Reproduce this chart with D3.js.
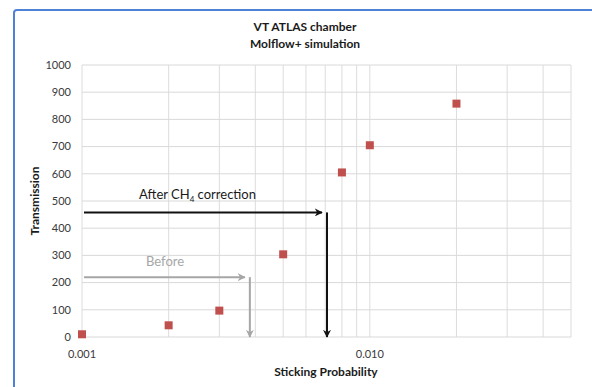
<!DOCTYPE html>
<html>
<head>
<meta charset="utf-8">
<script src="https://cdn.jsdelivr.net/npm/d3@7"></script>
<style>
  body { margin: 0; background: #fff; }
  text { font-family: Lato, "Open Sans", sans-serif; }
</style>
</head>
<body>
<div id="chart"></div>
<script>
// data
let sticking = [0.001, 0.002, 0.003, 0.005, 0.008, 0.01, 0.02];
let transmission = [10, 43, 97, 304, 605, 705, 858];
let yTicks = [0, 100, 200, 300, 400, 500, 600, 700, 800, 900, 1000];
let xLabels = [0.001, 0.010];
// annotation arrows: [transmission level, sticking probability]
let beforeArrow = [220, 0.00383];
let afterArrow = [458, 0.0071];

let width = 592, height = 387;
let margin = {left: 82, right: 21, top: 65, bottom: 50};

let svg = d3.select("#chart").append("svg")
    .attr("width", width)
    .attr("height", height);

// blue frame
svg.append("rect")
    .attr("x", 14).attr("y", 10)
    .attr("width", 620).attr("height", 420)
    .attr("rx", 3)
    .style("fill", "none")
    .style("stroke", "#4f81d6")
    .style("stroke-width", 2);

let x = d3.scaleLog()
    .domain([0.001, 0.05])
    .range([margin.left, width - margin.right]);

let y = d3.scaleLinear()
    .domain([0, 1000])
    .range([height - margin.bottom, margin.top]);

// grid
let xGrid = x.ticks().filter(function(d) { return d <= 0.05; });
svg.append("g").selectAll("line")
    .data(xGrid)
    .enter().append("line")
    .attr("x1", function(d) { return x(d); })
    .attr("x2", function(d) { return x(d); })
    .attr("y1", y(0)).attr("y2", y(1000))
    .style("stroke", "#dcdcdc")
    .style("stroke-width", 1);

svg.append("g").selectAll("line")
    .data(yTicks)
    .enter().append("line")
    .attr("x1", x(0.001)).attr("x2", x(0.05))
    .attr("y1", function(d) { return y(d); })
    .attr("y2", function(d) { return y(d); })
    .style("stroke", "#d9d9d9")
    .style("stroke-width", 1);

// y axis tick labels
svg.append("g").selectAll("text")
    .data(yTicks)
    .enter().append("text")
    .attr("x", margin.left - 11)
    .attr("y", function(d) { return y(d); })
    .attr("dy", "0.35em")
    .style("text-anchor", "end")
    .style("font-size", "11px")
    .style("fill", "#3a3a3a")
    .text(function(d) { return d; });

// x axis tick labels
svg.append("g").selectAll("text")
    .data(xLabels)
    .enter().append("text")
    .attr("x", function(d) { return x(d); })
    .attr("y", y(0) + 21)
    .style("text-anchor", "middle")
    .style("font-size", "11px")
    .style("fill", "#3a3a3a")
    .text(function(d) { return d3.format(".3f")(d); });

// titles
svg.append("text")
    .attr("x", 305).attr("y", 31)
    .style("text-anchor", "middle")
    .style("font-size", "12px")
    .style("font-weight", "bold")
    .style("fill", "#1a1a1a")
    .text("VT ATLAS chamber");
svg.append("text")
    .attr("x", 305).attr("y", 48)
    .style("text-anchor", "middle")
    .style("font-size", "12px")
    .style("font-weight", "bold")
    .style("fill", "#1a1a1a")
    .text("Molflow+ simulation");

svg.append("text")
    .attr("x", 326).attr("y", 376)
    .style("text-anchor", "middle")
    .style("font-size", "12px")
    .style("font-weight", "bold")
    .style("fill", "#1a1a1a")
    .text("Sticking Probability");

svg.append("text")
    .attr("transform", "translate(39," + y(500) + ") rotate(-90)")
    .style("text-anchor", "middle")
    .style("font-size", "12px")
    .style("font-weight", "bold")
    .style("fill", "#1a1a1a")
    .text("Transmission");

// arrow markers
let defs = svg.append("defs");
function marker(id, color) {
    defs.append("marker")
        .attr("id", id)
        .attr("viewBox", "0 0 10 10")
        .attr("refX", 9).attr("refY", 5)
        .attr("markerWidth", 4).attr("markerHeight", 4)
        .attr("orient", "auto")
        .append("path")
        .attr("d", "M0,0 L10,5 L0,10 L3,5 Z")
        .style("fill", color);
}
marker("arrowBlack", "#111");
marker("arrowGray", "#a6a6a6");

function drawArrows(arrow, color, id, width) {
    let yy = y(arrow[0]);
    let xx = x(arrow[1]);
    svg.append("line")
        .attr("x1", margin.left + 2).attr("x2", xx - 5)
        .attr("y1", yy).attr("y2", yy)
        .style("stroke", color).style("stroke-width", width)
        .attr("marker-end", "url(#" + id + ")");
    svg.append("line")
        .attr("x1", xx).attr("x2", xx)
        .attr("y1", yy).attr("y2", y(0))
        .style("stroke", color).style("stroke-width", width)
        .attr("marker-end", "url(#" + id + ")");
}
drawArrows(beforeArrow, "#a6a6a6", "arrowGray", 2);
drawArrows(afterArrow, "#111", "arrowBlack", 2);

svg.append("text")
    .attr("x", 139).attr("y", y(afterArrow[0]) - 13)
    .style("font-size", "13px")
    .style("fill", "#1a1a1a")
    .text("After CH")
    .append("tspan")
    .attr("dy", 3).style("font-size", "8px").text("4")
    .select(function() { return this.parentNode; })
    .append("tspan")
    .attr("dy", -3).text(" correction");

svg.append("text")
    .attr("x", 146).attr("y", y(beforeArrow[0]) - 11)
    .style("font-size", "13px")
    .style("fill", "#a6a6a6")
    .text("Before");

// points
svg.append("g").selectAll("rect")
    .data(sticking)
    .enter().append("rect")
    .attr("x", function(d) { return x(d) - 4; })
    .attr("y", function(d, i) { return y(transmission[i]) - 4; })
    .attr("width", 8).attr("height", 8)
    .style("fill", "#c0504d");
</script>
</body>
</html>
